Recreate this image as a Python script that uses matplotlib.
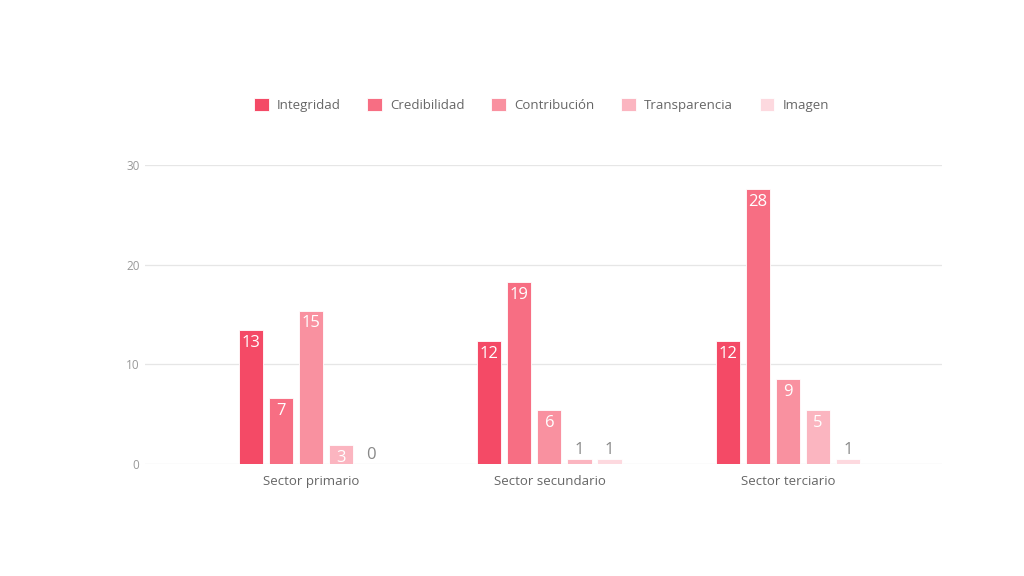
import matplotlib.pyplot as plt
import numpy as np

plt.rcParams['font.family'] = ['Open Sans', 'DejaVu Sans']

sectors = ['Sector primario', 'Sector secundario', 'Sector terciario']
series = ['Integridad', 'Credibilidad', 'Contribución', 'Transparencia', 'Imagen']
colors = ['#f44a66', '#f76e83', '#f991a0', '#fbb5c0', '#fdd9df']

heights = [
    [13.4, 6.6, 15.4, 1.9, 0.0],
    [12.3, 18.3, 5.4, 0.53, 0.53],
    [12.3, 27.55, 8.5, 5.4, 0.53],
]
labels = [
    [13, 7, 15, 3, 0],
    [12, 19, 6, 1, 1],
    [12, 28, 9, 5, 1],
]

fig = plt.figure(figsize=(10.24, 5.76), dpi=100)
ax = fig.add_axes([145 / 1024, 1 - 464 / 576, (942 - 145) / 1024, (464 - 165) / 576])

x = np.arange(len(sectors))
width = 0.101
step = 0.126
heights = np.array(heights)

for i, name in enumerate(series):
    pos = x + (i - 2) * step
    vals = heights[:, i]
    ax.bar(pos, vals, width, color=colors[i], label=name, zorder=3,
           edgecolor='white', linewidth=0.6)
    for j in range(len(sectors)):
        v = vals[j]
        if v > 1.5:
            ax.text(pos[j], v - 0.5, str(labels[j][i]), ha='center', va='top',
                    color='white', fontsize=12, zorder=4)
        else:
            ax.text(pos[j], v + 0.1, str(labels[j][i]), ha='center', va='bottom',
                    color='#888888', fontsize=12, zorder=4)

ax.set_xlim(-0.697, 2.647)
ax.set_ylim(0, 30)
ax.set_yticks([0, 10, 20, 30])
ax.set_xticks(x)
ax.set_xticklabels(sectors, color='#666666', fontsize=9.5)
ax.tick_params(axis='y', length=0, labelsize=8.5, labelcolor='#999999', pad=4)
ax.tick_params(axis='x', length=0, pad=8)
ax.grid(axis='y', color='#e6e6e6', linewidth=0.9, zorder=0)
for s in ax.spines.values():
    s.set_visible(False)

fig.legend(loc='center', bbox_to_anchor=(0.529, 1 - 105 / 576), ncol=5,
           frameon=False, fontsize=9.5, labelcolor='#666666',
           handlelength=1.1, handleheight=1.1, handletextpad=0.65, columnspacing=2.0)

fig.savefig('out.png', dpi=100, facecolor='white')
